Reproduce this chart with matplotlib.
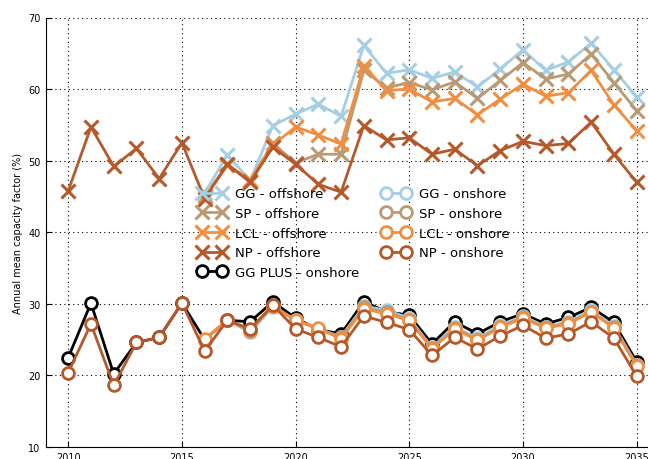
import numpy as np
import matplotlib.pyplot as plt

# Années
years = np.arange(2010, 2036)
years_off = np.arange(2016, 2036)

# Offshore (facteur de charge moyen annuel, %)
gg_off = [45.5, 50.8, 47.2, 54.9, 56.5, 57.9, 56.2, 66.1, 62.2, 62.7,
          61.5, 62.4, 60.3, 62.8, 65.5, 62.6, 63.8, 66.4, 62.7, 58.9]
sp_off = [45.0, 49.4, 47.2, 52.4, 49.7, 50.9, 50.9, 62.6, 60.2, 60.9,
          59.9, 61.0, 58.7, 61.2, 63.7, 61.4, 62.1, 64.9, 60.9, 57.0]
lcl_off = [45.0, 49.4, 47.3, 52.2, 54.7, 53.6, 52.3, 63.2, 59.8, 60.0,
           58.2, 58.7, 56.4, 58.6, 60.7, 59.0, 59.5, 62.6, 57.8, 54.2]
np_off = [45.8, 54.7, 49.2, 51.7, 47.5, 52.5, 44.7, 49.5, 47.0, 51.9,
          49.5, 46.7, 45.6, 54.9, 52.9, 53.2, 50.9, 51.6, 49.3, 51.4,
          52.7, 52.1, 52.4, 55.4, 50.9, 47.0]

# Onshore
ggplus_on = [22.5, 30.1, 20.2, 24.6, 25.3, 30.1, 25.0, 27.7, 27.5, 30.3,
             28.0, 26.4, 25.8, 30.3, 28.9, 28.4, 24.4, 27.5, 25.8, 27.5,
             28.6, 27.2, 28.1, 29.5, 27.4, 21.9]
gg_on = [25.0, 27.7, 26.0, 29.6, 27.7, 26.5, 25.4, 29.7, 29.1, 28.0,
         23.9, 26.8, 25.2, 27.0, 28.3, 26.8, 27.5, 29.1, 26.9, 21.5]
sp_on = [25.0, 27.7, 26.2, 29.7, 27.7, 26.5, 25.3, 29.5, 28.8, 27.8,
         23.8, 26.6, 25.0, 26.8, 28.1, 26.7, 27.3, 28.9, 26.7, 21.4]
lcl_on = [25.1, 27.7, 26.4, 29.7, 27.7, 26.6, 25.1, 29.3, 28.6, 27.7,
          23.7, 26.5, 24.9, 26.7, 28.0, 26.6, 27.2, 28.9, 26.6, 21.3]
np_on = [20.4, 27.2, 18.6, 24.6, 25.3, 30.1, 23.4, 27.7, 26.5, 29.8,
         26.5, 25.3, 24.0, 28.3, 27.4, 26.4, 22.8, 25.3, 23.7, 25.5,
         27.0, 25.2, 25.8, 27.5, 25.2, 19.9]

c_gg = '#a6cee3'
c_sp = '#b89a74'
c_lcl = '#f08f42'
c_np = '#b5592b'

fig = plt.figure(figsize=(6.48, 4.60), dpi=100)
ax = fig.add_axes([45.5 / 648, 12 / 460, (648 - 45.5) / 648, 429.5 / 460])

kx = dict(marker='x', markersize=10, mew=2.2, lw=2.0)
ko = dict(marker='o', markersize=8.5, mew=2.0, lw=2.0, mfc='white')

h1, = ax.plot(years_off, gg_off, color=c_gg, label="GG - offshore", **kx)
h2, = ax.plot(years_off, sp_off, color=c_sp, label="SP - offshore", **kx)
h3, = ax.plot(years_off, lcl_off, color=c_lcl, label="LCL - offshore", **kx)
h4, = ax.plot(years, np_off, color=c_np, label="NP - offshore", **kx)

h5, = ax.plot(years, ggplus_on, color='black', label="GG PLUS - onshore", **ko)
h6, = ax.plot(years_off, gg_on, color=c_gg, label="GG - onshore", **ko)
h7, = ax.plot(years_off, sp_on, color=c_sp, label="SP - onshore", **ko)
h8, = ax.plot(years_off, lcl_on, color=c_lcl, label="LCL - onshore", **ko)
h9, = ax.plot(years, np_on, color=c_np, label="NP - onshore", **ko)

ax.set_xlim(2009, 2035.5)
ax.set_ylim(10, 70)
ax.set_xticks(np.arange(2010, 2036, 5))
ax.set_yticks(np.arange(10, 71, 10))
ax.tick_params(direction='in', length=4, labelsize=7, top=False, right=False)
ax.spines['top'].set_visible(False)
ax.spines['right'].set_visible(False)
ax.grid(True, color='black', linestyle=(0, (1, 3)), linewidth=0.8)
ax.set_ylabel("Annual mean capacity factor (%)", fontsize=7)

ax.legend(handles=[h1, h2, h3, h4, h5, h6, h7, h8, h9], ncol=2, numpoints=2,
          frameon=False, fontsize=9.5, loc='center',
          bbox_to_anchor=(0.512, 0.498), handlelength=2.1,
          handletextpad=0.7, columnspacing=1.7, labelspacing=0.5)

fig.savefig("out.png", dpi=100)
